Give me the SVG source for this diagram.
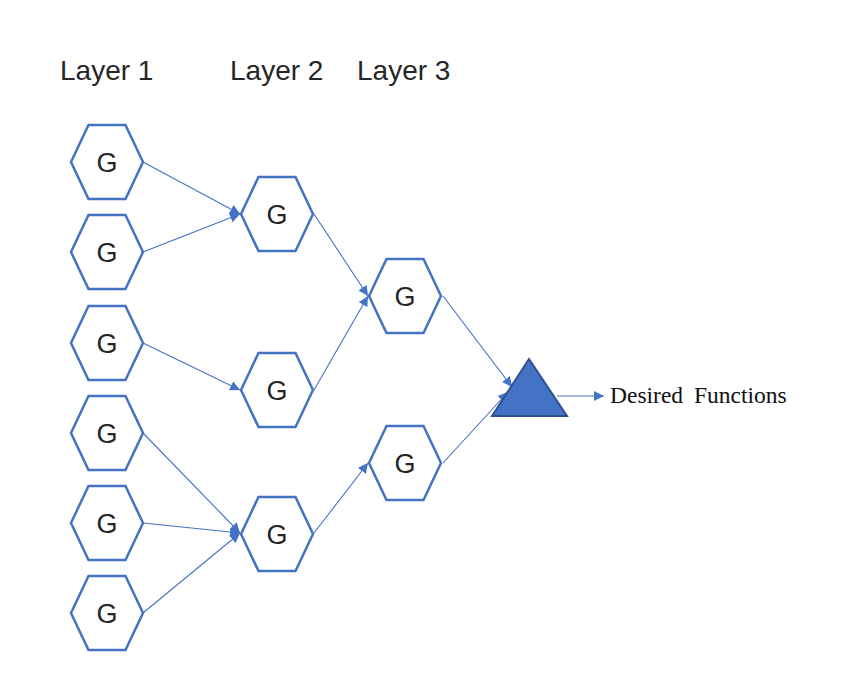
<svg xmlns="http://www.w3.org/2000/svg" width="844" height="690" viewBox="0 0 844 690">
<style>
.hex{fill:#fff;stroke:#4472c4;stroke-width:2.5}
.g{font-family:"Liberation Sans",Arial,sans-serif;font-size:27px;fill:#262626;text-anchor:middle}
.lab{font-family:"Liberation Sans",Arial,sans-serif;font-size:28px;fill:#262626}
.c{stroke:#4472c4;stroke-width:1.1;fill:none;marker-end:url(#ah)}
</style>
<defs>
<polygon id="hx" class="hex" points="-36,0 -18.5,-37 18.5,-37 36,0 18.5,37 -18.5,37"/>
<marker id="ah" markerUnits="userSpaceOnUse" markerWidth="12" markerHeight="10" refX="10" refY="5" orient="auto">
<path d="M0,0 L10,5 L0,10 z" fill="#4472c4"/>
</marker>
</defs>
<rect width="844" height="690" fill="#fff"/>
<text class="lab" x="60" y="80">Layer 1</text>
<text class="lab" x="230" y="80">Layer 2</text>
<text class="lab" x="357" y="80">Layer 3</text>
<g id="connectors">
<line class="c" x1="143" y1="162" x2="240" y2="214"/>
<line class="c" x1="143" y1="252" x2="240" y2="214"/>
<line class="c" x1="143" y1="343" x2="240" y2="390"/>
<line class="c" x1="143" y1="433" x2="240" y2="533"/>
<line class="c" x1="143" y1="523" x2="240" y2="533"/>
<line class="c" x1="143" y1="613" x2="240" y2="533"/>
<line class="c" x1="314" y1="214" x2="368" y2="296"/>
<line class="c" x1="314" y1="390" x2="368" y2="296"/>
<line class="c" x1="314" y1="533" x2="368" y2="463"/>
<line class="c" x1="443" y1="296" x2="512" y2="387"/>
<line class="c" x1="443" y1="463" x2="508" y2="392"/>
<line class="c" x1="557" y1="396" x2="604" y2="396"/>
</g>
<g id="n1a"><use href="#hx" x="107" y="162"/><text class="g" x="107" y="172">G</text></g>
<g id="n1b"><use href="#hx" x="107" y="252"/><text class="g" x="107" y="262">G</text></g>
<g id="n1c"><use href="#hx" x="107" y="343"/><text class="g" x="107" y="353">G</text></g>
<g id="n1d"><use href="#hx" x="107" y="433"/><text class="g" x="107" y="443">G</text></g>
<g id="n1e"><use href="#hx" x="107" y="523"/><text class="g" x="107" y="533">G</text></g>
<g id="n1f"><use href="#hx" x="107" y="613"/><text class="g" x="107" y="623">G</text></g>
<g id="n2a"><use href="#hx" x="277" y="214"/><text class="g" x="277" y="224">G</text></g>
<g id="n2b"><use href="#hx" x="277" y="390"/><text class="g" x="277" y="400">G</text></g>
<g id="n2c"><use href="#hx" x="277" y="534"/><text class="g" x="277" y="544">G</text></g>
<g id="n3a"><use href="#hx" x="405" y="296"/><text class="g" x="405" y="306">G</text></g>
<g id="n3b"><use href="#hx" x="405" y="463"/><text class="g" x="405" y="473">G</text></g>
<g id="out"><polygon points="529,359 567,416 492,416" fill="#4472c4" stroke="#2f528f" stroke-width="2"/></g>
<g id="label"><text x="610" y="403" font-family="'Liberation Serif','Times New Roman',serif" font-size="23.5" word-spacing="5" fill="#111">Desired Functions</text></g>
</svg>
